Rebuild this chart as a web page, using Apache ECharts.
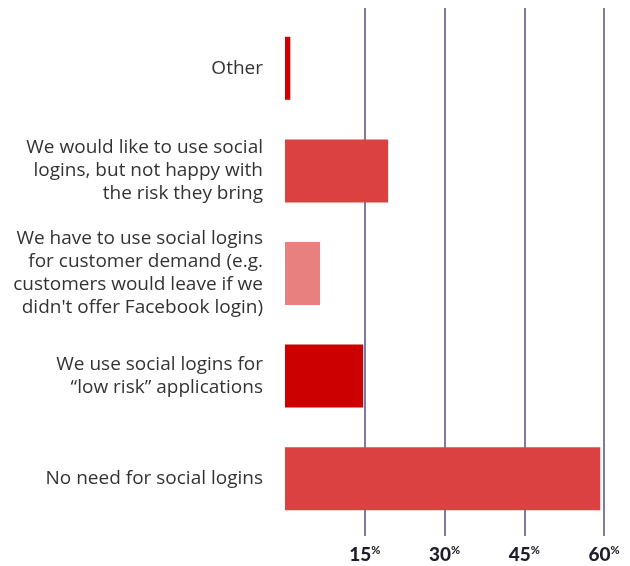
<!DOCTYPE html>
<html>
<head>
<meta charset="utf-8">
<script src="https://cdn.jsdelivr.net/npm/echarts@6/dist/echarts.min.js"></script>
<style>
html,body{margin:0;padding:0;background:#fff;}
#chart{width:630px;height:566px;}
</style>
</head>
<body>
<div id="chart"></div>
<script>
// Categories listed bottom to top
var categories = [
  'No need for social logins',
  'We use social logins for\n\u201Clow risk\u201D applications',
  'We have to use social logins\nfor customer demand (e.g.\ncustomers would leave if we\ndidn\'t offer Facebook login)',
  'We would like to use social\nlogins, but not happy with\nthe risk they bring',
  'Other'
];
var values = [59.3, 14.7, 6.6, 19.4, 1.0];
var tickValues = [15, 30, 45, 60];
var barColors = ['#db4141', '#cc0000', '#e88080', '#db4141', '#cc0000'];

var lineColor = '#525282';
var chart = echarts.init(document.getElementById('chart'));
chart.setOption({
  animation: false,
  grid: { left: 285, right: 26, top: 17, bottom: 36, containLabel: false },
  xAxis: [{
    type: 'value', min: 0, max: 60, interval: 15, position: 'bottom',
    axisLine: { show: false },
    axisTick: { show: true, customValues: tickValues, inside: true, length: 522, lineStyle: { color: lineColor, width: 1.5 } },
    splitLine: { show: false },
    axisLabel: {
      margin: 15,
      customValues: tickValues,
      formatter: function (v) { return '{n|' + v + '}{p|%}'; },
      rich: {
        n: { fontFamily: 'Lato', fontWeight: 900, fontSize: 19, color: '#1e1e2a' },
        p: { fontFamily: 'Lato', fontWeight: 900, fontSize: 11, color: '#1e1e2a', padding: [0, 0, 9, 0] }
      }
    }
  }, {
    type: 'value', min: 0, max: 60, interval: 15, position: 'bottom',
    axisLine: { show: false },
    axisTick: { show: true, customValues: tickValues, length: 6, lineStyle: { color: lineColor, width: 1.5 } },
    splitLine: { show: false },
    axisLabel: { show: false }
  }],
  yAxis: {
    type: 'category', data: categories,
    axisLine: { show: false }, axisTick: { show: false },
    axisLabel: { margin: 22, fontFamily: 'Open Sans', fontSize: 19, lineHeight: 23, color: '#333333', align: 'right' }
  },
  series: [{
    type: 'bar', xAxisIndex: 0, barWidth: 63,
    data: values.map(function (v, i) { return { value: v, itemStyle: { color: barColors[i] } }; })
  }]
});
</script>
</body>
</html>
